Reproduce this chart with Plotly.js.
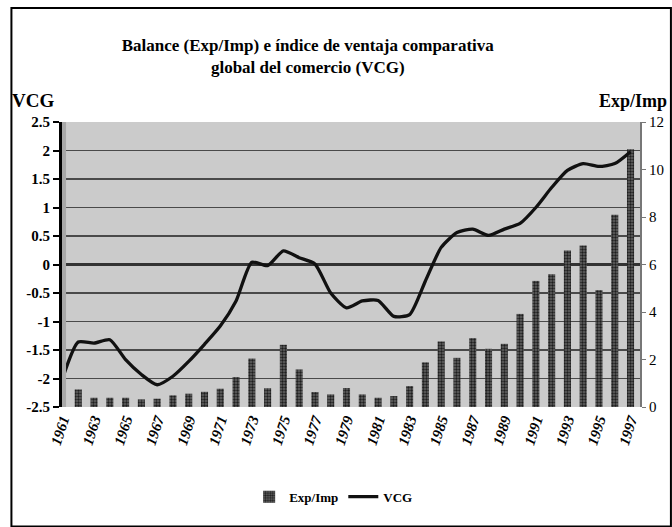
<!DOCTYPE html>
<html>
<head>
<meta charset="utf-8">
<script src="https://cdn.plot.ly/plotly-3.0.1.min.js"></script>
<style>html,body{margin:0;padding:0;background:#fff;}#chart{width:672px;height:527px;}</style>
</head>
<body>
<div id="chart"></div>
<script>
var years = [1961,1962,1963,1964,1965,1966,1967,1968,1969,1970,1971,1972,1973,1974,1975,1976,1977,1978,1979,1980,1981,1982,1983,1984,1985,1986,1987,1988,1989,1990,1991,1992,1993,1994,1995,1996,1997];
var expImp = [0.3,0.74,0.39,0.39,0.39,0.32,0.35,0.49,0.56,0.64,0.77,1.26,2.04,0.79,2.62,1.58,0.63,0.53,0.8,0.53,0.39,0.46,0.88,1.88,2.76,2.07,2.9,2.45,2.66,3.92,5.31,5.59,6.59,6.8,4.92,8.1,10.85];
var vcg = [-2.0,-1.36,-1.38,-1.32,-1.67,-1.93,-2.11,-1.96,-1.70,-1.40,-1.08,-0.64,0.04,-0.02,0.24,0.12,0.01,-0.5,-0.76,-0.64,-0.63,-0.91,-0.88,-0.29,0.30,0.56,0.62,0.51,0.62,0.72,1.0,1.35,1.65,1.77,1.72,1.77,1.98];
var tickYears = [1961,1963,1965,1967,1969,1971,1973,1975,1977,1979,1981,1983,1985,1987,1989,1991,1993,1995,1997];
var tickText = tickYears.map(String);
var vcgTicks = [-2.5,-2,-1.5,-1,-0.5,0,0.5,1,1.5,2,2.5];
var vcgTickText = ['-2.5','-2','-1.5','-1','-0.5','0','0.5','1','1.5','2','2.5'];

var serif = 'Liberation Serif';

var traces = [
  {
    type: 'bar', name: 'Exp/Imp', x: years, y: expImp, yaxis: 'y', width: 0.45,
    marker: {color: '#4a4a4a', line: {width: 0},
      pattern: {shape: '.', fgcolor: '#1e1e1e', bgcolor: '#666666', size: 3, solidity: 0.5}}
  },
  {
    type: 'scatter', mode: 'lines', name: 'VCG', x: years, y: vcg, yaxis: 'y2',
    line: {color: '#111', width: 3.3, shape: 'spline', smoothing: 0.6}
  }
];

var layout = {
  width: 672, height: 527,
  paper_bgcolor: '#ffffff', plot_bgcolor: '#cbcbcb',
  margin: {l: 62, r: 32, t: 122, b: 120},
  showlegend: true,
  legend: {orientation: 'h', x: 0.47, xanchor: 'center', y: -0.315, yanchor: 'middle',
    font: {family: serif, size: 13, color: '#000', weight: 'bold'}, bgcolor: 'rgba(0,0,0,0)'},
  title: {text: 'Balance (Exp/Imp) e índice de ventaja comparativa<br>global del comercio (VCG)',
    xref: 'container', x: 0.458, xanchor: 'center', yref: 'container', y: 0.903, yanchor: 'top',
    font: {family: serif, size: 17, color: '#000', weight: 'bold'}},
  xaxis: {
    type: 'linear', range: [1960.97, 1997.6], tickmode: 'array', tickvals: tickYears, ticktext: tickText,
    tickangle: -72, showgrid: false, zeroline: false, showline: false, ticks: '',
    tickfont: {family: serif, size: 15, color: '#000', weight: 'bold', style: 'italic'}
  },
  yaxis: {
    side: 'right', range: [0, 12], dtick: 2, tick0: 0, showgrid: false, zeroline: false,
    showline: true, linecolor: '#777', linewidth: 2, ticks: 'outside', ticklen: 4, tickcolor: '#777',
    tickfont: {family: serif, size: 15, color: '#000'}
  },
  yaxis2: {
    overlaying: 'y', side: 'left', range: [-2.5, 2.5], tickmode: 'array', tickvals: vcgTicks, ticktext: vcgTickText,
    showgrid: true, gridcolor: '#4a4a4a', gridwidth: 1.5, zeroline: true, zerolinecolor: '#333', zerolinewidth: 2.5,
    showline: true, linecolor: '#000', linewidth: 3, ticks: 'outside', ticklen: 6, tickwidth: 2, tickcolor: '#000',
    tickfont: {family: serif, size: 15, color: '#000', weight: 'bold'}
  },
  shapes: [
    {type: 'rect', xref: 'paper', yref: 'paper', x0: 0, x1: 0.007, y0: 0, y1: 1,
      fillcolor: '#a8a8a8', line: {width: 0}},
    {type: 'rect', xref: 'paper', yref: 'paper', x0: -0.0875, x1: 1.0535, y0: -0.419, y1: 1.4, layer: 'below',
      fillcolor: 'rgba(0,0,0,0)', line: {color: '#000', width: 2}}
  ],
  annotations: [
    {text: 'VCG', xref: 'paper', yref: 'paper', x: -0.09, y: 1.03, xanchor: 'left', yanchor: 'bottom',
      showarrow: false, font: {family: serif, size: 19, color: '#000', weight: 'bold'}},
    {text: 'Exp/Imp', xref: 'paper', yref: 'paper', x: 1.05, y: 1.03, xanchor: 'right', yanchor: 'bottom',
      showarrow: false, font: {family: serif, size: 18, color: '#000', weight: 'bold'}}
  ]
};

Plotly.newPlot('chart', traces, layout, {displayModeBar: false, staticPlot: true});
</script>
</body>
</html>
